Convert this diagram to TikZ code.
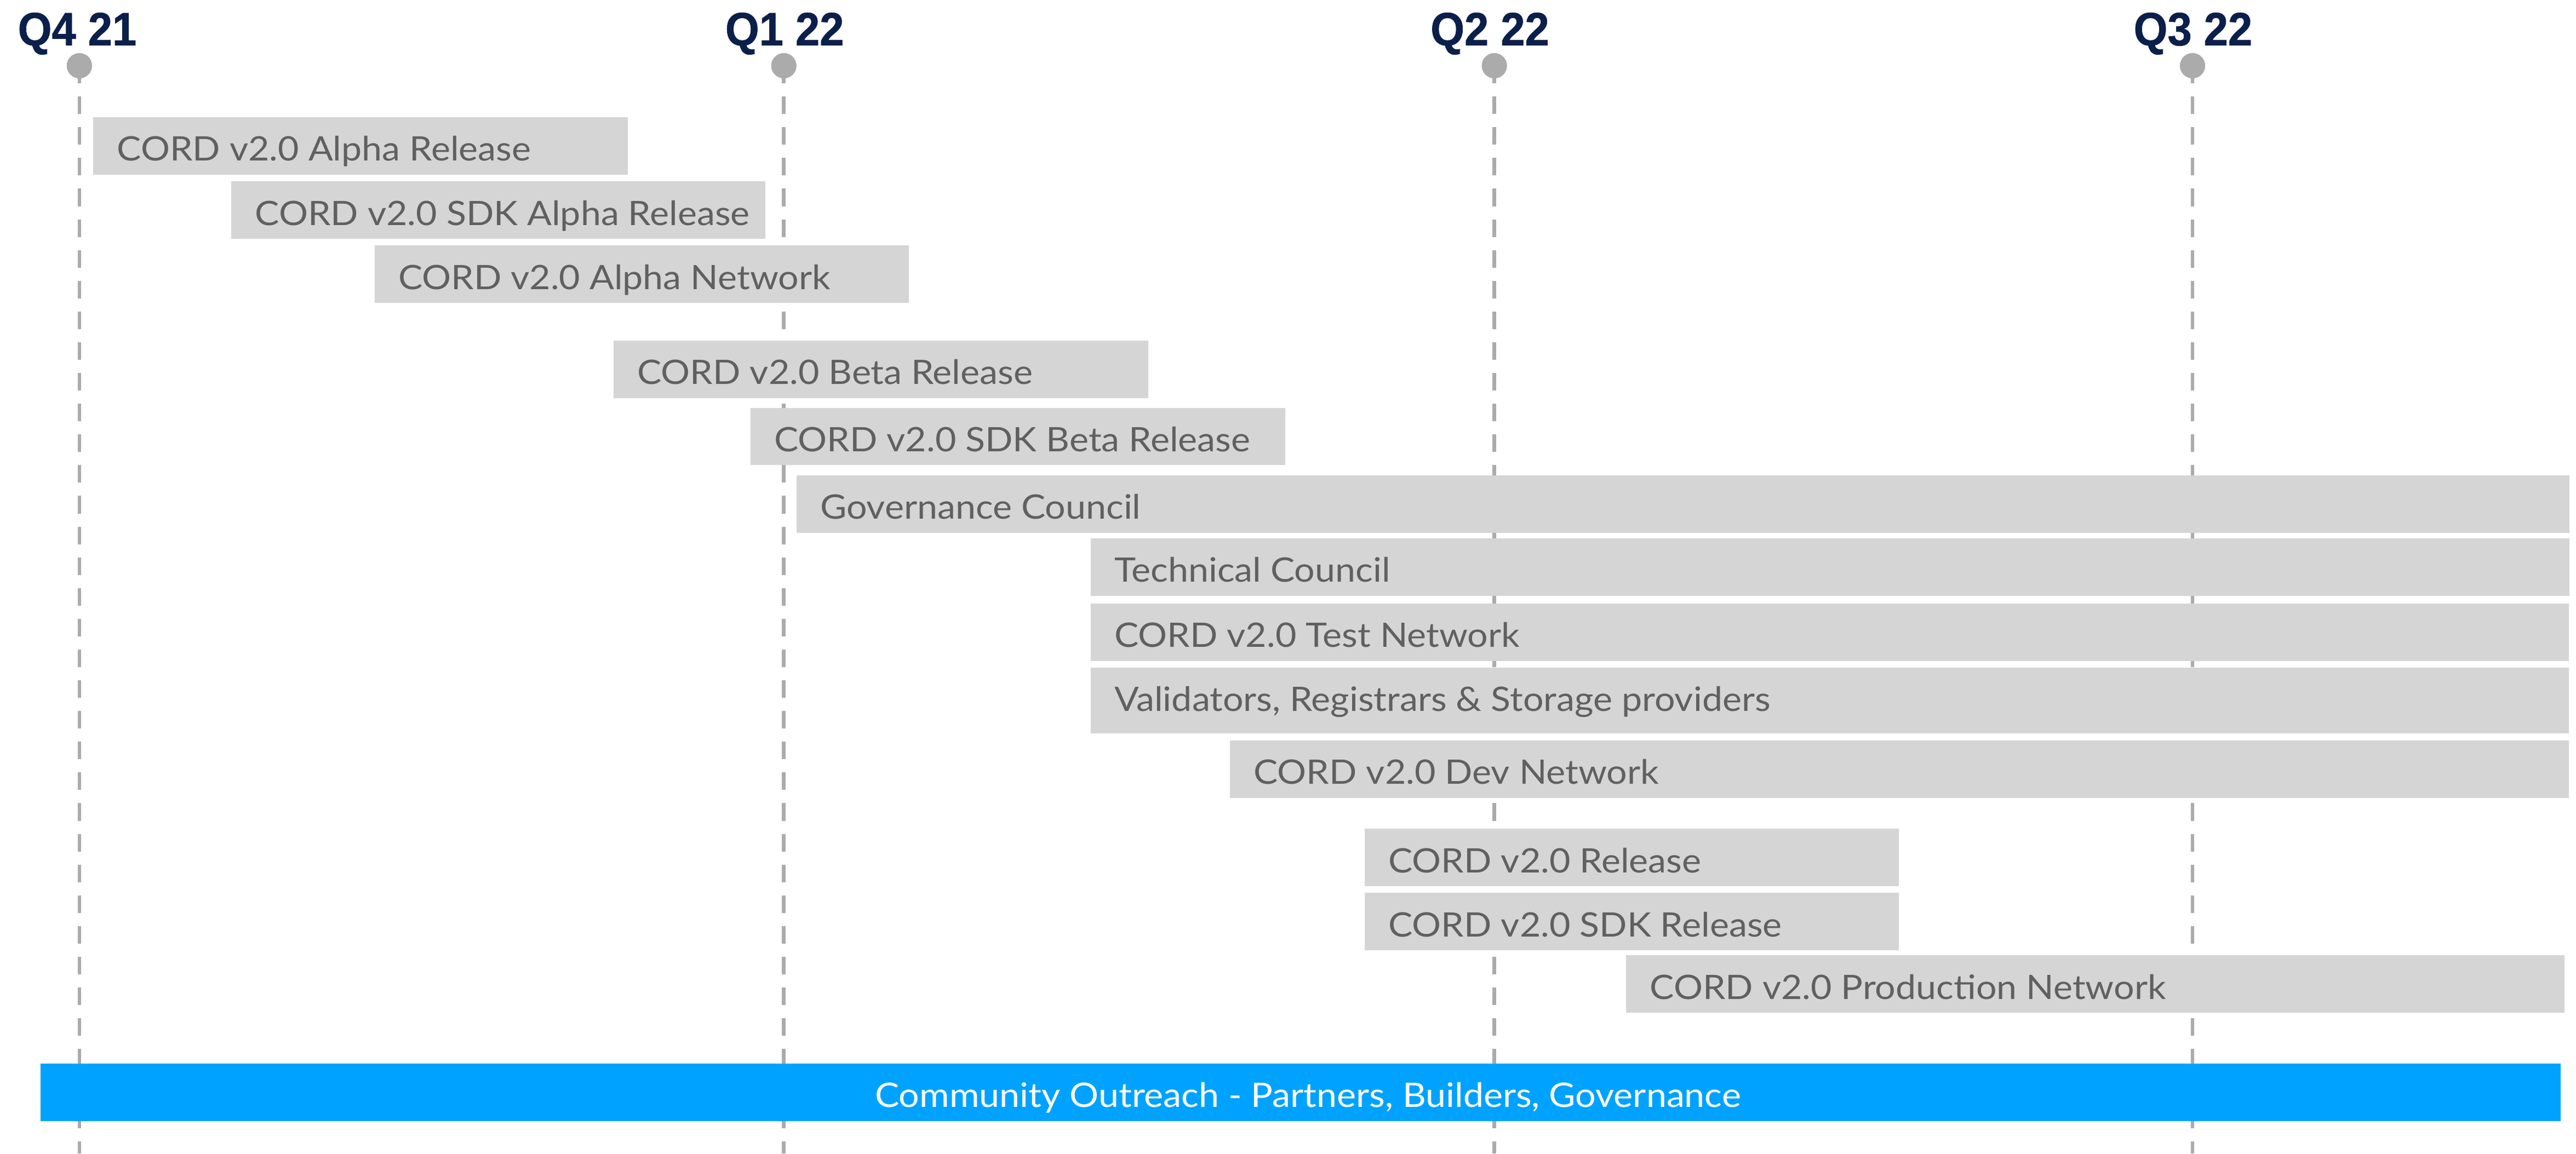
\documentclass[tikz,border=0pt]{standalone}
\usepackage{fontspec}
\setmainfont{Lato}[FakeStretch=1.078]
\newfontfamily\qfont{Liberation Sans}[FakeStretch=0.93,BoldFeatures={FakeBold=0.8}]
\definecolor{navy}{HTML}{0B1F4B}
\definecolor{bargray}{HTML}{D5D5D5}
\definecolor{txtgray}{HTML}{606060}
\definecolor{linegray}{HTML}{ABABAB}
\definecolor{outblue}{HTML}{00A2FF}
\begin{document}
\begin{tikzpicture}[x=1pt,y=-1pt,
  bar/.style={fill=bargray, draw=none, inner sep=0pt, outer sep=0pt, anchor=north west},
  bluebar/.style={fill=outblue, draw=none, inner sep=0pt, outer sep=0pt, anchor=north west},
  lbl/.style={anchor=base west, inner sep=0pt, text=txtgray, font=\fontsize{20.5}{24}\selectfont},
  qlbl/.style={anchor=base, inner sep=0pt, text=navy, font=\qfont\bfseries\fontsize{28.5}{30}\selectfont},
  dot/.style={circle, fill=linegray, draw=none, minimum size=15.3pt, inner sep=0pt},
  tline/.style={draw=linegray, line width=2.2pt, dash pattern=on 10.7pt off 8pt}]
\useasboundingbox (0,0) rectangle (1567.33,702);
\fill[white] (0,0) rectangle (1567.33,702);
% timeline markers
\coordinate (e1) at (48.3,702);
\coordinate (e2) at (476.9,702);
\coordinate (e3) at (909.2,702);
\coordinate (e4) at (1334,702);
\node[dot] (d1) at (48.3,40) {};
\node[dot] (d2) at (476.9,40) {};
\node[dot] (d3) at (909.2,40) {};
\node[dot] (d4) at (1334,40) {};
\draw[tline] (d1.center) -- (e1);
\draw[tline] (d2.center) -- (e2);
\draw[tline] (d3.center) -- (e3);
\draw[tline] (d4.center) -- (e4);
\node[dot] at (d1) {};
\node[dot] at (d2) {};
\node[dot] at (d3) {};
\node[dot] at (d4) {};
\node[qlbl] (q1) at (47,27.6) {Q4 21};
\node[qlbl] (q2) at (477.4,27.6) {Q1 22};
\node[qlbl] (q3) at (906.5,27.6) {Q2 22};
\node[qlbl] (q4) at (1334.3,27.6) {Q3 22};
% bars
\node[bar, minimum width=325.2pt, minimum height=34.9pt] (b1) at (56.8,71.3) {};
\node[lbl] (t1) at (71.1,97.9) {CORD v2.0 Alpha Release};
\node[bar, minimum width=325pt, minimum height=34.8pt] (b2) at (140.8,110.4) {};
\node[lbl] (t2) at (155.1,137) {CORD v2.0 SDK Alpha Release};
\node[bar, minimum width=325.2pt, minimum height=34.8pt] (b3) at (227.9,149.4) {};
\node[lbl] (t3) at (242.2,176) {CORD v2.0 Alpha Network};
\node[bar, minimum width=325.3pt, minimum height=34.9pt] (b4) at (373.3,207.3) {};
\node[lbl] (t4) at (387.6,233.9) {CORD v2.0 Beta Release};
\node[bar, minimum width=325.4pt, minimum height=34.8pt] (b5) at (456.6,248.3) {};
\node[lbl] (t5) at (470.9,274.9) {CORD v2.0 SDK Beta Release};
\node[bar, minimum width=1078.9pt, minimum height=34.9pt] (b6) at (484.5,289.3) {};
\node[lbl] (t6) at (498.8,315.9) {Governance Council};
\node[bar, minimum width=899.8pt, minimum height=35pt] (b7) at (663.6,327.6) {};
\node[lbl] (t7) at (677.9,354.2) {Technical Council};
\node[bar, minimum width=899.5pt, minimum height=34.9pt] (b8) at (663.6,367.3) {};
\node[lbl] (t8) at (677.9,393.9) {CORD v2.0 Test Network};
\node[bar, minimum width=899.5pt, minimum height=40.1pt] (b9) at (663.6,406.3) {};
\node[lbl] (t9) at (677.9,432.8) {Validators, Registrars \& Storage providers};
\node[bar, minimum width=814.8pt, minimum height=34.9pt] (b10) at (748.3,450.6) {};
\node[lbl] (t10) at (762.6,477.2) {CORD v2.0 Dev Network};
\node[bar, minimum width=325.1pt, minimum height=34.8pt] (b11) at (830.3,504.4) {};
\node[lbl] (t11) at (844.6,531) {CORD v2.0 Release};
\node[bar, minimum width=325.1pt, minimum height=34.8pt] (b12) at (830.3,543.4) {};
\node[lbl] (t12) at (844.6,570) {CORD v2.0 SDK Release};
\node[bar, minimum width=571pt, minimum height=34.9pt] (b13) at (989.4,581.4) {};
\node[lbl] (t13) at (1003.7,608) {CORD v2.0 Production Network};
\node[bluebar, minimum width=1533.2pt, minimum height=34.9pt] (b14) at (24.8,647.3) {};
\node[lbl, anchor=base, text=white] (t14) at (795.8,673.7) {Community Outreach - Partners, Builders, Governance};
\end{tikzpicture}
\end{document}
